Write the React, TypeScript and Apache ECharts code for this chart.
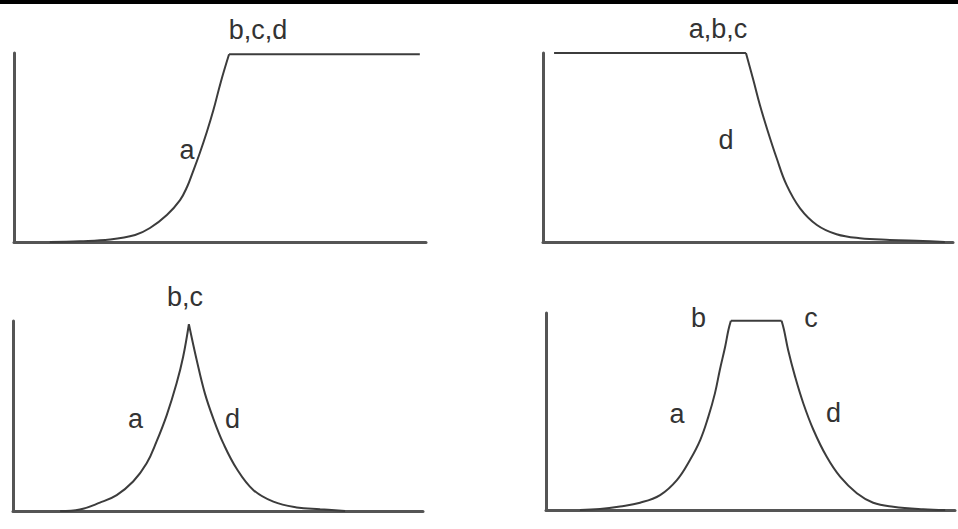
import React, { useEffect, useRef } from "react";
import * as echarts from "echarts";

// Panel 1 (top-left): rise "a" then plateau "b,c,d"
const p1Rise: [number, number][] = [
  [8.7, 0], [16.0, 0.4], [23.3, 1.3], [29.4, 3.7], [33.0, 7.4], [37.1, 14.3],
  [40.3, 22.2], [42.0, 29.1], [43.4, 37.0], [45.1, 47.1], [46.8, 58.2],
  [48.4, 69.8], [50.2, 84.7], [52.2, 99.3],
];
const p1Plateau: [number, number][] = [[52.2, 99.3], [98.5, 99.3]];

// Panel 2 (top-right): plateau "a,b,c" then fall "d"
const p2Plateau: [number, number][] = [[2.7, 100], [49.5, 100]];
const p2Fall: [number, number][] = [
  [49.5, 100], [51.3, 85.7], [52.9, 72.5], [54.6, 60.2], [57.0, 44.3], [59.4, 30.2],
  [62.7, 17.8], [66.8, 9.0], [71.6, 4.1], [77.3, 2.0], [84.6, 1.1], [92.7, 0.5], [98, 0],
];

// Panel 3 (bottom-left): peak "b,c", rise "a", fall "d"
const p3Rise: [number, number][] = [
  [11.5, 0], [16.3, 0.8], [21.2, 4.4], [25.3, 8.4], [29.3, 15.5], [32.6, 25.1],
  [35.0, 36.5], [37.5, 50.5], [39.9, 67.2], [41.5, 81.2], [42.9, 98.3],
];
const p3Fall: [number, number][] = [
  [42.9, 98.3], [44.8, 79.5], [46.8, 61.9], [48.9, 48.4], [51.3, 35.6], [54.6, 22.1],
  [58.6, 11.1], [63.5, 4.9], [69.2, 1.9], [74.9, 0.9], [81.0, 0],
];

// Panel 4 (bottom-right): rise "a", plateau "b"–"c", fall "d"
const p4Rise: [number, number][] = [
  [8.3, 0], [13.2, 0.5], [18.1, 1.8], [23.0, 3.7], [27.9, 7.6], [32.0, 15.2],
  [35.2, 25.4], [37.7, 35.5], [39.7, 47.4], [41.3, 59.2], [42.5, 71.1],
  [43.8, 82.9], [44.6, 91.4], [45.2, 96.1],
];
const p4Plateau: [number, number][] = [[45.2, 96.1], [57.6, 96.1]];
const p4Fall: [number, number][] = [
  [57.6, 96.1], [58.2, 91.4], [59.2, 81.2], [60.9, 67.7], [62.9, 54.2], [65.4, 40.6],
  [68.6, 27.1], [71.9, 16.9], [76.0, 8.5], [80.0, 3.7], [84.9, 1.7], [92.2, 0.4], [97.6, 0],
];

// Labels per panel
const panelLabels: string[][] = [
  ["b,c,d", "a"],
  ["a,b,c", "d"],
  ["b,c", "a", "d"],
  ["b", "c", "a", "d"],
];

const AXIS_COLOR = "#555";
const LINE_COLOR = "#3c3c3c";
const TEXT_COLOR = "#333";

export default function App() {
  const ref = useRef<HTMLDivElement>(null);

  useEffect(() => {
    document.body.style.margin = "0";
    if (!ref.current) return;
    const chart = echarts.init(ref.current, undefined, { renderer: "svg" });

    const grids = [
      { left: 14, top: 53, width: 412, height: 189 },
      { left: 543, top: 53, width: 410, height: 189 },
      { left: 13, top: 321, width: 410, height: 190 },
      { left: 546, top: 313, width: 409, height: 197 },
    ];

    const axisCommon = {
      type: "value" as const,
      min: 0,
      max: 100,
      axisLabel: { show: false },
      axisTick: { show: false },
      splitLine: { show: false },
      axisLine: { show: true, lineStyle: { color: AXIS_COLOR, width: 3 } },
    };

    const line = (idx: number, data: [number, number][], smooth: boolean) => ({
      type: "line" as const,
      xAxisIndex: idx,
      yAxisIndex: idx,
      data,
      smooth: smooth ? 0.4 : false,
      symbol: "none",
      clip: false,
      lineStyle: { color: LINE_COLOR, width: 2 },
      z: 3,
    });

    const labelPos: [number, number][][] = [
      [[258, 30], [187, 150]],
      [[718, 29], [726, 140]],
      [[185, 297], [135.5, 419], [232.5, 419]],
      [[698.5, 318], [811, 318], [677, 414], [833.5, 413]],
    ];

    const texts: any[] = [];
    panelLabels.forEach((labels, pi) => {
      labels.forEach((t, li) => {
        const [x, y] = labelPos[pi][li];
        texts.push({
          type: "text",
          x,
          y,
          style: {
            text: t,
            fill: TEXT_COLOR,
            font: "27px 'Liberation Sans', Arial, sans-serif",
            align: "center",
            verticalAlign: "middle",
          },
          z: 10,
        });
      });
    });

    chart.setOption({
      animation: false,
      backgroundColor: "#ffffff",
      grid: grids,
      xAxis: grids.map((_, i) => ({ ...axisCommon, gridIndex: i })),
      yAxis: grids.map((_, i) => ({ ...axisCommon, gridIndex: i })),
      series: [
        line(0, p1Rise, true),
        line(0, p1Plateau, false),
        line(1, p2Plateau, false),
        line(1, p2Fall, true),
        line(2, p3Rise, true),
        line(2, p3Fall, true),
        line(3, p4Rise, true),
        line(3, p4Plateau, false),
        line(3, p4Fall, true),
      ],
      graphic: [
        {
          type: "rect",
          shape: { x: 0, y: 0, width: 958, height: 4 },
          style: { fill: "#000" },
          z: 10,
        },
        ...texts,
      ],
    });

    return () => chart.dispose();
  }, []);

  return <div ref={ref} style={{ width: 958, height: 529 }} />;
}
